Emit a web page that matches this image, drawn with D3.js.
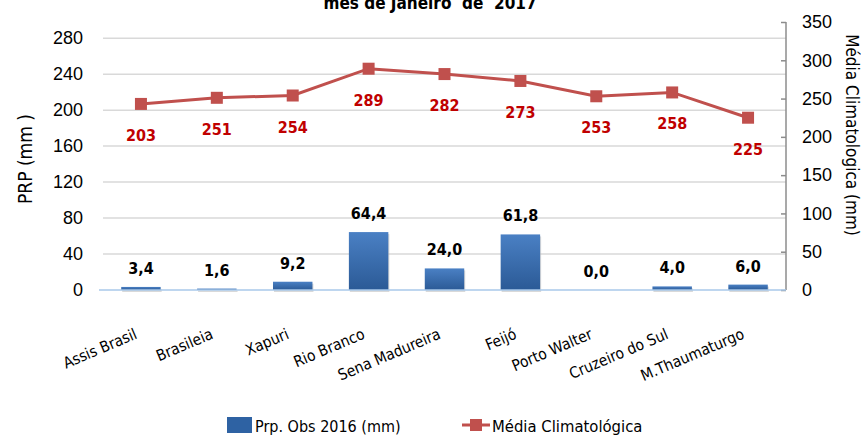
<!DOCTYPE html>
<html>
<head>
<meta charset="utf-8">
<script src="https://cdnjs.cloudflare.com/ajax/libs/d3/7.8.5/d3.min.js"></script>
<style>
  body { margin: 0; background: #fff; }
  svg { display: block; font-family: "DejaVu Sans Condensed", "Liberation Sans Narrow", sans-serif; }
</style>
</head>
<body>
<div class="module-graph"></div>
<script>
"use strict"

// dados
const cidades = ["Assis Brasil", "Brasileia", "Xapuri", "Rio Branco", "Sena Madureira",
    "Feijó", "Porto Walter", "Cruzeiro do Sul", "M.Thaumaturgo"];
const obs2016 = [3.4, 1.6, 9.2, 64.4, 24.0, 61.8, 0.0, 4.0, 6.0];
const mediaClim = [243, 251, 254, 289, 282, 273, 253, 258, 225];
const mediaRotulos = ["203", "251", "254", "289", "282", "273", "253", "258", "225"];
const ticksEsq = [0, 40, 80, 120, 160, 200, 240, 280];
const ticksDir = [0, 50, 100, 150, 200, 250, 300, 350];

let width = 861,
    height = 436;
const plotLeft = 103, plotRight = 786, plotTop = 22, plotBottom = 290;

const svg = d3.select("div.module-graph").append("svg")
    .attr("width", width)
    .attr("height", height);

const defs = svg.append("defs");
const grad = defs.append("linearGradient")
    .attr("id", "barGrad")
    .attr("x1", 0).attr("y1", 0).attr("x2", 0).attr("y2", 1);
grad.append("stop").attr("offset", "0%").attr("stop-color", "#4a80c4");
grad.append("stop").attr("offset", "100%").attr("stop-color", "#2b5a96");

const scaleX = d3.scaleBand()
    .domain(cidades)
    .range([plotLeft, plotRight])
    .paddingInner(0.48)
    .paddingOuter(0.24);

const scaleY = d3.scaleLinear()
    .domain([0, 298])
    .range([plotBottom, plotTop]);

const scaleY2 = d3.scaleLinear()
    .domain([0, 350])
    .range([plotBottom, plotTop]);

// titulo (cortado no topo, como no original)
svg.append("text")
    .attr("x", 430)
    .attr("y", 9)
    .attr("text-anchor", "middle")
    .style("font-size", "17px")
    .style("font-weight", "bold")
    .style("white-space", "pre")
    .text("mes de Janeiro  de  2017");

// grade
svg.append("g")
    .selectAll("line")
    .data(ticksEsq.slice(1))
    .join("line")
    .attr("x1", plotLeft)
    .attr("x2", plotRight)
    .attr("y1", d => scaleY(d))
    .attr("y2", d => scaleY(d))
    .attr("stroke", "#d9d9d9")
    .attr("stroke-width", 1.5);

// eixo esquerdo
const yAxis = d3.axisLeft(scaleY).tickValues(ticksEsq).tickSize(0).tickPadding(20);
svg.append("g")
    .attr("transform", "translate(" + plotLeft + ",0)")
    .call(yAxis)
    .call(g => g.select(".domain").remove())
    .selectAll("text")
    .style("font-family", "inherit")
    .style("font-size", "18px")
    .attr("fill", "#000");

// eixo direito
const yAxis2 = d3.axisRight(scaleY2).tickValues(ticksDir).tickSize(-5).tickPadding(16);
const gDir = svg.append("g")
    .attr("transform", "translate(" + plotRight + ",0)")
    .call(yAxis2);
gDir.select(".domain").attr("stroke", "#8c8c8c").attr("stroke-width", 1.5).attr("d", "M0," + plotTop + "V" + plotBottom);
gDir.selectAll(".tick line").attr("stroke", "#8c8c8c").attr("stroke-width", 1.5);
gDir.selectAll("text")
    .style("font-family", "inherit")
    .style("font-size", "18px")
    .attr("fill", "#000");

// barras (sombra + barra)
svg.append("g")
    .selectAll("rect")
    .data(obs2016)
    .join("rect")
    .attr("x", (d, i) => scaleX(cidades[i]) + 1)
    .attr("y", d => scaleY(d) + 2)
    .attr("width", scaleX.bandwidth())
    .attr("height", d => plotBottom - scaleY(d))
    .attr("fill", "#bfbfbf")
    .attr("opacity", 0.6);

svg.append("g")
    .selectAll("rect")
    .data(obs2016)
    .join("rect")
    .attr("x", (d, i) => scaleX(cidades[i]))
    .attr("y", d => scaleY(d))
    .attr("width", scaleX.bandwidth())
    .attr("height", d => plotBottom - scaleY(d))
    .attr("fill", "url(#barGrad)");

// linha zero
svg.append("line")
    .attr("x1", plotLeft - 4)
    .attr("x2", plotRight)
    .attr("y1", scaleY(0))
    .attr("y2", scaleY(0))
    .attr("stroke", "#a9c8ea")
    .attr("stroke-width", 1.5);

// rotulos das barras
svg.append("g")
    .selectAll("text")
    .data(obs2016)
    .join("text")
    .attr("x", (d, i) => scaleX(cidades[i]) + scaleX.bandwidth() / 2)
    .attr("y", d => scaleY(d) - 13)
    .attr("text-anchor", "middle")
    .style("font-size", "16px")
    .style("font-weight", "bold")
    .text(d => d.toFixed(1).replace(".", ","));

// linha da media
const cx = i => scaleX(cidades[i]) + scaleX.bandwidth() / 2;
const line = d3.line()
    .x((d, i) => cx(i))
    .y(d => scaleY2(d));

svg.append("path")
    .datum(mediaClim)
    .attr("d", line)
    .attr("fill", "none")
    .attr("stroke", "#c0504d")
    .attr("stroke-width", 3);

svg.append("g")
    .selectAll("rect")
    .data(mediaClim)
    .join("rect")
    .attr("x", (d, i) => cx(i) - 6)
    .attr("y", d => scaleY2(d) - 6)
    .attr("width", 12)
    .attr("height", 12)
    .attr("fill", "#c0504d");

svg.append("g")
    .selectAll("text")
    .data(mediaClim)
    .join("text")
    .attr("x", (d, i) => cx(i))
    .attr("y", d => scaleY2(d) + 37)
    .attr("text-anchor", "middle")
    .style("font-size", "16px")
    .style("font-weight", "bold")
    .attr("fill", "#c00000")
    .text((d, i) => mediaRotulos[i]);

// rotulos do eixo x
svg.append("g")
    .selectAll("text")
    .data(cidades)
    .join("text")
    .attr("transform", (d, i) => "translate(" + (cx(i) - 7) + ",328) rotate(-23)")
    .attr("text-anchor", "end")
    .attr("dy", "0.7em")
    .style("font-size", "15.5px")
    .text(d => d);

// titulos dos eixos
svg.append("text")
    .attr("transform", "translate(32,159) rotate(-90)")
    .attr("text-anchor", "middle")
    .style("font-size", "19px")
    .text("PRP (mm )");

svg.append("text")
    .attr("transform", "translate(846,135) rotate(90)")
    .attr("text-anchor", "middle")
    .style("font-size", "17px")
    .text("Média Climatologica (mm)");

// legenda
svg.append("rect")
    .attr("x", 227).attr("y", 417).attr("width", 25).attr("height", 16)
    .attr("fill", "#2e62a3");
svg.append("text")
    .attr("x", 255).attr("y", 432)
    .style("font-size", "16px")
    .text("Prp. Obs 2016 (mm)");
svg.append("line")
    .attr("x1", 462).attr("x2", 490).attr("y1", 425).attr("y2", 425)
    .attr("stroke", "#c0504d").attr("stroke-width", 3);
svg.append("rect")
    .attr("x", 470).attr("y", 419).attr("width", 12).attr("height", 12)
    .attr("fill", "#c0504d");
svg.append("text")
    .attr("x", 492).attr("y", 432)
    .style("font-size", "16.5px")
    .text("Média Climatológica");
</script>
</body>
</html>
